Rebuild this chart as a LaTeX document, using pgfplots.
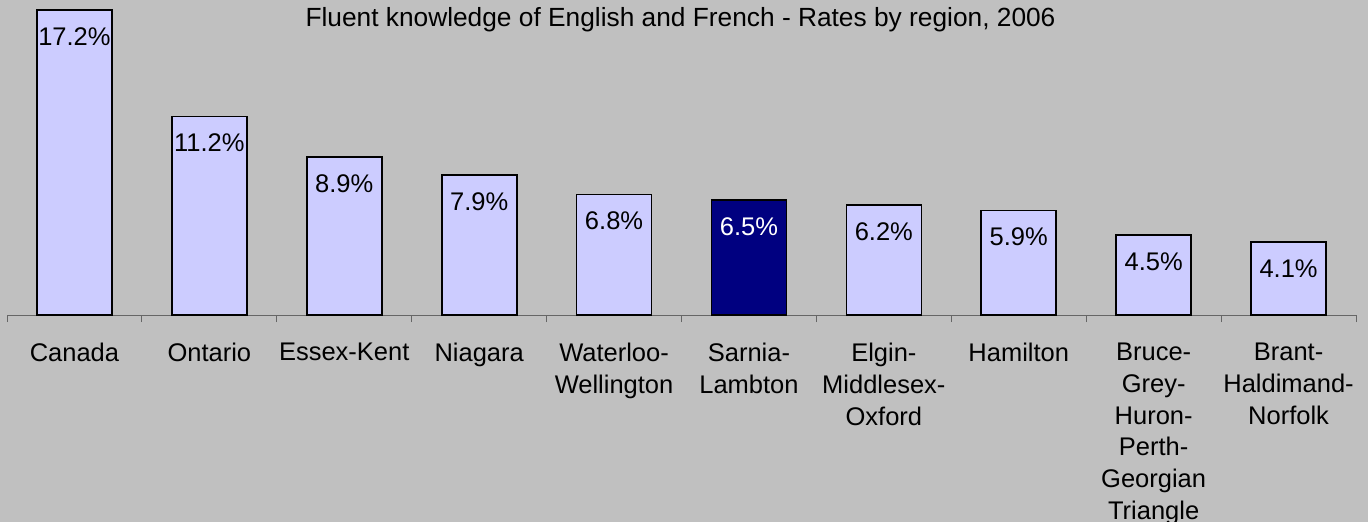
\documentclass[border=0pt]{standalone}
\usepackage{pgfplots}
\pgfplotsset{compat=1.18}
\usepackage{fontspec}
\setmainfont{Liberation Sans}
\definecolor{bg}{HTML}{C0C0C0}
\definecolor{barfill}{HTML}{CCCCFF}
\definecolor{navy}{HTML}{000080}
\begin{document}
\begin{tikzpicture}
\fill[bg] (-7bp,-207bp) rectangle (1361bp,315bp);
\useasboundingbox (-7bp,-207bp) rectangle (1361bp,315bp);
\begin{axis}[
  at={(0,0)}, anchor=south west,
  scale only axis, width=1349bp, height=315bp,
  xmin=-0.5, xmax=9.5, ymin=0, ymax=17.77,
  axis x line*=bottom, axis y line=none,
  x axis line style={draw=gray!80!black, line width=1bp},
  xtick={0,...,9},
  major tick length=0pt,
  minor xtick={-0.5,0.5,...,9.5},
  minor tick length=7bp,
  tick align=outside,
  minor tick style={draw=gray!80!black, line width=1bp},
  xticklabels={Canada, Ontario, Essex-Kent, Niagara, {Waterloo-\\Wellington}, {Sarnia-\\Lambton}, {Elgin-\\Middlesex-\\Oxford}, Hamilton, {Bruce-\\Grey-\\Huron-\\Perth-\\Georgian\\Triangle}, {Brant-\\Haldimand-\\Norfolk}},
  xticklabel style={align=center, anchor=north, inner sep=0pt, yshift=-28bp, font=\fontsize{25.5bp}{31.7bp}\selectfont},
  ybar, bar width=75bp, bar shift=0pt,
  point meta=explicit symbolic,
  nodes near coords={\pgfplotspointmeta\%},
  every node near coord/.append style={anchor=center, yshift=-26.5bp, font=\fontsize{25.5bp}{30bp}\selectfont},
]
\addplot[fill=barfill, draw=black, line width=1.7bp] table[x=x, y=y, meta=l] {
x y l
0 17.2 17.2
1 11.2 11.2
2 8.9 8.9
3 7.9 7.9
4 6.8 6.8
6 6.2 6.2
7 5.9 5.9
8 4.5 4.5
9 4.1 4.1
};
\addplot[fill=navy, draw=black, line width=1.7bp, every node near coord/.append style={text=white}] table[x=x, y=y, meta=l] {
x y l
5 6.5 6.5
};
\end{axis}
\node[font=\fontsize{26.3bp}{30bp}\selectfont] at (673.5bp,295bp) {Fluent knowledge of English and French - Rates by region, 2006};
\end{tikzpicture}
\end{document}
